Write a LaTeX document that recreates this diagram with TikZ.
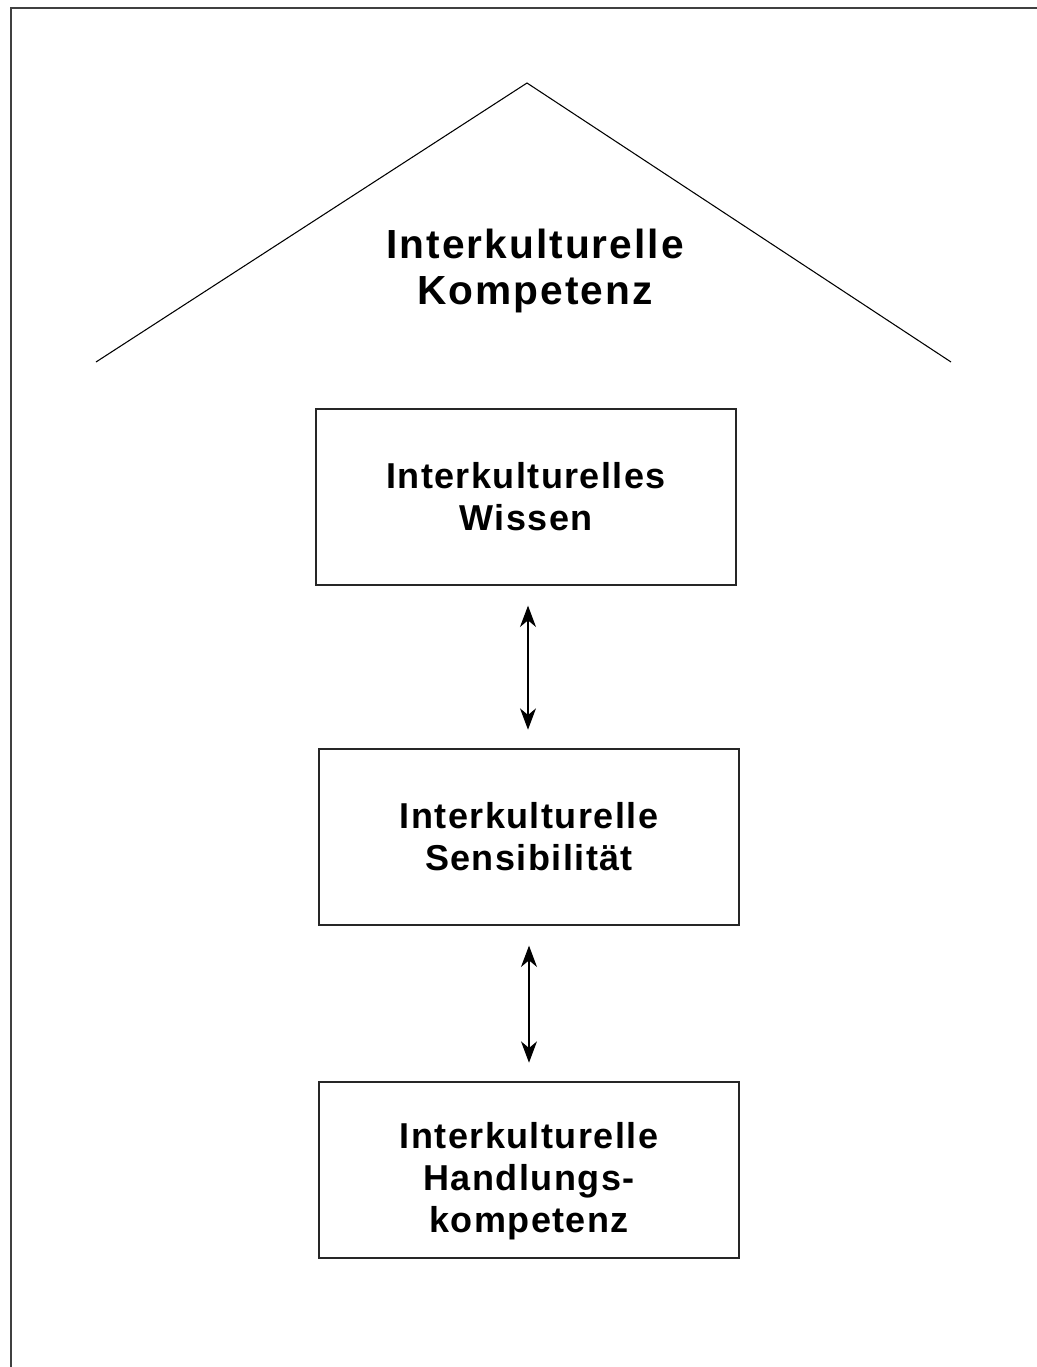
\documentclass[tikz,border=0pt]{standalone}
\usepackage{fontspec}
\setmainfont{Liberation Sans}
\newfontfamily\boxfont[LetterSpace=4]{Liberation Sans Bold}
\newfontfamily\titlefont[LetterSpace=5]{Liberation Sans Bold}
\usetikzlibrary{arrows.meta}
\begin{document}
\begin{tikzpicture}[x=0.75pt,y=-0.75pt,
  framestyle/.style={draw=black!75, line width=1.5pt},
  roofstyle/.style={draw=black, line width=0.8pt},
  levelbox/.style={draw=black!85, line width=1pt, minimum width=315pt, minimum height=132pt, inner sep=0pt, align=center, font=\boxfont\fontsize{27}{31.5}\selectfont},
  titlestyle/.style={align=center, inner sep=0pt, font=\titlefont\fontsize{30.5}{35}\selectfont},
  link/.style={{Stealth[length=16pt,width=12pt,inset=5pt]}-{Stealth[length=16pt,width=12pt,inset=5pt]}, line width=0.8pt, black, shorten <=15pt, shorten >=14pt}]
\useasboundingbox (0,0) rectangle (1037,1367);
\coordinate (ftl) at (11,8);
\coordinate (ftr) at (1037,8);
\coordinate (fbl) at (11,1367);
\draw[framestyle] (ftr) -- (ftl) -- (fbl);
\coordinate (rl) at (96,362);
\coordinate (rt) at (527,83);
\coordinate (rr) at (951,362);
\draw[roofstyle] (rl) -- (rt) -- (rr);
\node[titlestyle] (title) at (535,271) {Interkulturelle\\Kompetenz};
\node[levelbox] (b1) at (526,497) {Interkulturelles\\Wissen};
\node[levelbox] (b2) at (529,837) {Interkulturelle\\Sensibilität};
\node[levelbox] (b3) at (529,1170) {\rule{0pt}{36pt}Interkulturelle\\Handlungs-\\kompetenz};
\draw[link] (b1.south -| 528,0) -- (b2.north -| 528,0);
\draw[link] (b2.south -| 529,0) -- (b3.north -| 529,0);
\end{tikzpicture}
\end{document}
